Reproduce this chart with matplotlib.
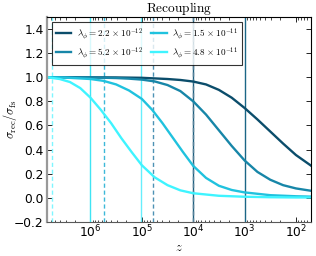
import numpy as np
import matplotlib
matplotlib.use('Agg')
import matplotlib.pyplot as plt

plt.rcParams['mathtext.fontset'] = 'cm'
plt.rcParams['font.family'] = ['DejaVu Sans']

# log10(z) and sigma_rec/sigma_fs
logz1 = [6.85, 6.0, 5.5, 5.0, 4.5, 4.25, 4.0, 3.75, 3.5, 3.25, 3.0, 2.75, 2.5, 2.25, 2.0, 1.7]
sig1 = [1.0, 0.999, 0.998, 0.995, 0.985, 0.977, 0.964, 0.94, 0.895, 0.83, 0.745, 0.65, 0.55, 0.45, 0.355, 0.265]

logz2 = [6.85, 6.0, 5.5, 5.25, 5.0, 4.75, 4.5, 4.25, 4.0, 3.75, 3.5, 3.25, 3.0, 2.75, 2.5, 2.25, 2.0, 1.7]
sig2 = [1.0, 0.998, 0.993, 0.988, 0.98, 0.965, 0.935, 0.885, 0.80, 0.69, 0.56, 0.43, 0.31, 0.215, 0.15, 0.105, 0.078, 0.058]

logz3 = [6.85, 6.5, 6.0, 5.75, 5.5, 5.25, 5.0, 4.8, 4.6, 4.4, 4.2, 4.0, 3.75, 3.5, 3.25, 3.0, 2.5, 2.0, 1.7]
sig3 = [1.0, 0.997, 0.985, 0.97, 0.94, 0.89, 0.82, 0.73, 0.62, 0.50, 0.38, 0.265, 0.165, 0.10, 0.065, 0.045, 0.022, 0.013, 0.01]

logz4 = [6.85, 6.6, 6.4, 6.2, 6.0, 5.8, 5.6, 5.4, 5.2, 5.0, 4.75, 4.5, 4.25, 4.0, 3.5, 3.0, 2.5, 2.0, 1.7]
sig4 = [1.0, 0.985, 0.96, 0.91, 0.83, 0.73, 0.62, 0.495, 0.38, 0.27, 0.17, 0.105, 0.062, 0.038, 0.017, 0.009, 0.005, 0.003, 0.003]

labels = [r'$\lambda_\phi =2.2\,\times10^{-12}$', r'$\lambda_\phi =5.2\,\times10^{-12}$',
          r'$\lambda_\phi =1.5\,\times10^{-11}$', r'$\lambda_\phi =4.8\,\times10^{-11}$']
colors = ['#0b4d6b', '#1786a8', '#20c2de', '#3ff4ff']

# vertical markers
vsolid = [1e6, 1.05e5, 1e4, 1e3]
vsolid_c = ['#3fe4f4', '#66eefc', '#1e5f7e', '#1b6686']
vdash = [5.5e6, 5.4e5, 6.1e4, 1.02e4]
vdash_c = ['#7ff6ff', '#3cb8d8', '#4d92b4', '#557f98']

fig = plt.figure(figsize=(3.16, 2.56), dpi=100)
ax = fig.add_axes([0.149, 0.133, 0.835, 0.801])

for z, c in zip(vsolid, vsolid_c):
    ax.axvline(z, color=c, lw=1.0)
for z, c in zip(vdash, vdash_c):
    ax.axvline(z, color=c, lw=1.0, ls='--', dashes=(3, 2))

for lz, s, c, l in zip([logz1, logz2, logz3, logz4], [sig1, sig2, sig3, sig4], colors, labels):
    ax.plot(10 ** np.array(lz), s, color=c, lw=1.7, label=l)

ax.set_xscale('log')
ax.set_xlim(7e6, 51)
ax.set_ylim(-0.2, 1.5)
ax.set_yticks(np.arange(-0.2, 1.41, 0.2))
ax.set_xticks([1e6, 1e5, 1e4, 1e3, 1e2])
ax.tick_params(which='both', direction='in', top=True, right=True, labelsize=8.8)
ax.tick_params(axis='x', pad=1.5)
ax.tick_params(axis='y', pad=2.5)
ax.tick_params(which='major', length=3.5, width=0.6)
ax.tick_params(which='minor', length=1.8, width=0.5)
for s in ax.spines.values():
    s.set_linewidth(0.8)
ax.spines['left'].set_color('0.6')
ax.spines['left'].set_linewidth(1.6)
ax.spines['bottom'].set_color('0.35')

ax.set_title(r'$\mathrm{Recoupling}$', fontsize=9.6, pad=2)
ax.set_xlabel(r'$z$', fontsize=9, labelpad=0)
ax.set_ylabel(r'$\sigma_{\rm rec}/\sigma_{\rm fs}$', fontsize=8.8)
ax.yaxis.set_label_coords(-0.108, 0.5)

leg = ax.legend(loc='upper left', ncol=2, fontsize=6.6, frameon=True, fancybox=False,
                handlelength=1.7, handletextpad=0.6, columnspacing=0.9, borderpad=0.45,
                labelspacing=0.4, borderaxespad=0.0, bbox_to_anchor=(0.017, 0.975))
leg.get_frame().set_edgecolor('black')
leg.get_frame().set_linewidth(0.8)

fig.savefig('out.png', dpi=100)
